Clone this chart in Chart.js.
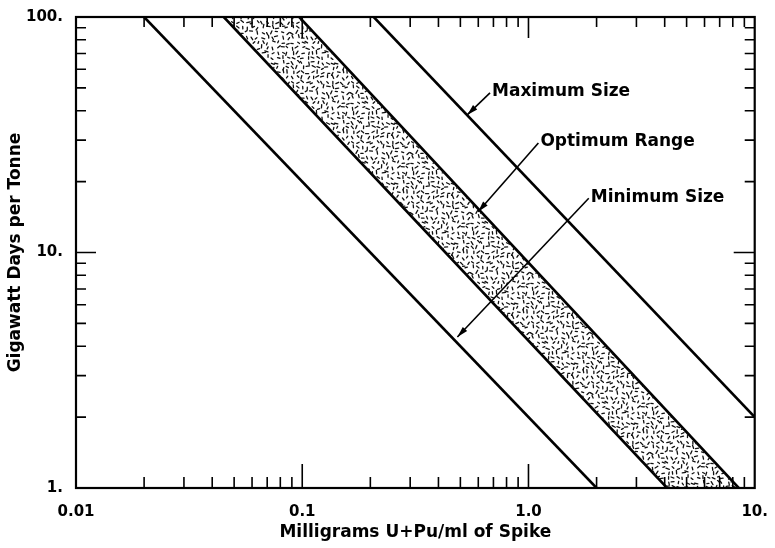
<!DOCTYPE html>
<html lang="en">
<head>
    <meta charset="UTF-8">
    <title>Spike size vs burnup</title>
    <script src="https://cdn.jsdelivr.net/npm/chart.js"></script>
    <style>
        html, body { margin: 0; padding: 0; background: #fff; }
        canvas { display: block; }
    </style>
</head>
<body>
    <canvas id="spikeChart" width="775" height="548"></canvas>

    <script>
        // axis ticks
        const xTickValues = [0.01, 0.1, 1, 10];
        const xTickLabels = ['0.01', '0.1', '1.0', '10.'];
        const yTickValues = [1, 10, 100];
        const yTickLabels = ['1.', '10.', '100.'];

        // the four diagonal lines (x = mg/ml, y = GWd/t)
        const outerLowX = [0.02, 2.0];
        const outerLowY = [100, 1];
        const bandLowX = [0.045, 4.1];
        const bandLowY = [100, 1];
        const bandHighX = [0.097, 8.5];
        const bandHighY = [100, 1];
        const outerHighX = [0.207, 10];
        const outerHighY = [100, 2.0];

        // labels with arrows: text starts at the tail, arrowhead at the tip
        const noteTexts = ['Maximum Size', 'Optimum Range', 'Minimum Size'];
        const noteTailX = [0.676, 1.106, 1.847];
        const noteTailY = [47.6, 29.2, 17.0];
        const noteTipX = [0.536, 0.599, 0.485];
        const noteTipY = [38.4, 14.9, 4.38];

        const FONT = '"DejaVu Sans", Lato, sans-serif';

        const pts = (xs, ys) => xs.map((x, i) => ({ x: x, y: ys[i] }));

        // stipple texture for the optimum band (jittered grid of short dashes)
        function stipple() {
            const c = document.createElement('canvas');
            c.width = 60; c.height = 60;
            const g = c.getContext('2d');
            g.strokeStyle = '#111';
            g.lineWidth = 1.3;
            g.lineCap = 'round';
            let s = 11;
            const next = () => { s = (s * 16807) % 2147483647; return s / 2147483647; };
            for (let gx = 0; gx < 60; gx += 5) {
                for (let gy = 0; gy < 60; gy += 5) {
                    const x = gx + 1 + next() * 3, y = gy + 1 + next() * 3;
                    const a = next() * Math.PI;
                    const l = 1.0 + next() * 0.8;
                    g.beginPath();
                    g.moveTo(x - Math.cos(a) * l, y - Math.sin(a) * l);
                    g.lineTo(x + Math.cos(a) * l, y + Math.sin(a) * l);
                    g.stroke();
                }
            }
            return g.createPattern(c, 'repeat');
        }

        // frame + inward tick marks on all four sides
        const frameTicks = {
            id: 'frameTicks',
            afterDatasetsDraw(chart) {
                const { ctx, chartArea: a, scales: { x, y } } = chart;
                const mult = [2, 3, 4, 5, 6, 7, 8, 9];
                ctx.save();
                ctx.strokeStyle = '#000';
                ctx.lineWidth = 1.6;
                [0.01, 0.1, 1].forEach(d => mult.forEach(m => {
                    const px = x.getPixelForValue(d * m);
                    ctx.beginPath();
                    ctx.moveTo(px, a.bottom); ctx.lineTo(px, a.bottom - 11);
                    ctx.moveTo(px, a.top); ctx.lineTo(px, a.top + 10);
                    ctx.stroke();
                }));
                [0.1, 1].forEach(d => {
                    const px = x.getPixelForValue(d);
                    ctx.beginPath();
                    ctx.moveTo(px, a.bottom); ctx.lineTo(px, a.bottom - 24);
                    ctx.moveTo(px, a.top); ctx.lineTo(px, a.top + 21);
                    ctx.stroke();
                });
                [1, 10].forEach(d => mult.forEach(m => {
                    const py = y.getPixelForValue(d * m);
                    ctx.beginPath();
                    ctx.moveTo(a.left, py); ctx.lineTo(a.left + 10, py);
                    ctx.moveTo(a.right, py); ctx.lineTo(a.right - 10, py);
                    ctx.stroke();
                }));
                const p10 = y.getPixelForValue(10);
                ctx.beginPath();
                ctx.moveTo(a.left, p10); ctx.lineTo(a.left + 20, p10);
                ctx.moveTo(a.right, p10); ctx.lineTo(a.right - 21, p10);
                ctx.stroke();
                ctx.lineWidth = 2.2;
                ctx.strokeRect(a.left, a.top, a.right - a.left, a.bottom - a.top);
                ctx.restore();
            }
        };

        // arrows and their labels
        const notes = {
            id: 'notes',
            afterDatasetsDraw(chart) {
                const { ctx, scales: { x, y } } = chart;
                ctx.save();
                ctx.strokeStyle = '#000';
                ctx.fillStyle = '#000';
                ctx.lineWidth = 1.6;
                ctx.font = 'bold 17px ' + FONT;
                ctx.textBaseline = 'middle';
                noteTexts.forEach((t, i) => {
                    const x0 = x.getPixelForValue(noteTailX[i]), y0 = y.getPixelForValue(noteTailY[i]);
                    const x1 = x.getPixelForValue(noteTipX[i]), y1 = y.getPixelForValue(noteTipY[i]);
                    const ang = Math.atan2(y1 - y0, x1 - x0);
                    ctx.beginPath();
                    ctx.moveTo(x0, y0); ctx.lineTo(x1, y1);
                    ctx.stroke();
                    ctx.beginPath();
                    ctx.moveTo(x1, y1);
                    ctx.lineTo(x1 - 11 * Math.cos(ang) + 3 * Math.sin(ang), y1 - 11 * Math.sin(ang) - 3 * Math.cos(ang));
                    ctx.lineTo(x1 - 11 * Math.cos(ang) - 3 * Math.sin(ang), y1 - 11 * Math.sin(ang) + 3 * Math.cos(ang));
                    ctx.closePath();
                    ctx.fill();
                    ctx.fillText(t, x0 + 2, y0 - 1);
                });
                ctx.restore();
            }
        };

        const lineStyle = { showLine: true, borderColor: '#000', borderWidth: 2.6, pointRadius: 0, fill: false };
        const tickFont = { family: FONT, size: 15, weight: 'bold' };
        const titleFont = { family: FONT, size: 17, weight: 'bold' };

        new Chart(document.getElementById('spikeChart'), {
            type: 'scatter',
            data: {
                datasets: [
                    {
                        label: 'Optimum Range',
                        data: pts(bandLowX.concat(bandHighX.slice().reverse()), bandLowY.concat(bandHighY.slice().reverse())),
                        showLine: true, borderWidth: 0, pointRadius: 0,
                        fill: 'shape', backgroundColor: stipple()
                    },
                    Object.assign({ label: 'lower', data: pts(outerLowX, outerLowY) }, lineStyle),
                    Object.assign({ label: 'band low', data: pts(bandLowX, bandLowY) }, lineStyle),
                    Object.assign({ label: 'band high', data: pts(bandHighX, bandHighY) }, lineStyle),
                    Object.assign({ label: 'upper', data: pts(outerHighX, outerHighY) }, lineStyle)
                ]
            },
            options: {
                responsive: false,
                animation: false,
                devicePixelRatio: 1,
                layout: { padding: { top: 17, right: 12, left: 0, bottom: 0 } },
                plugins: { legend: { display: false }, tooltip: { enabled: false } },
                scales: {
                    x: {
                        type: 'logarithmic',
                        min: 0.01, max: 10,
                        afterBuildTicks: s => { s.ticks = xTickValues.map(v => ({ value: v })); },
                        afterFit: s => { s.height = 60; },
                        grid: { display: false },
                        border: { display: false },
                        ticks: {
                            autoSkip: false, maxRotation: 0, padding: 7,
                            color: '#000', font: tickFont,
                            callback: v => xTickLabels[xTickValues.indexOf(v)]
                        },
                        title: {
                            display: true, text: 'Milligrams U+Pu/ml of Spike', color: '#000',
                            font: titleFont,
                            padding: { top: 0, bottom: 5 }
                        }
                    },
                    y: {
                        type: 'logarithmic',
                        min: 1, max: 100,
                        afterBuildTicks: s => { s.ticks = yTickValues.map(v => ({ value: v })); },
                        afterFit: s => { s.width = 76; },
                        grid: { display: false },
                        border: { display: false },
                        ticks: {
                            autoSkip: false, padding: 5,
                            color: '#000', font: tickFont,
                            callback: v => yTickLabels[yTickValues.indexOf(v)]
                        },
                        title: {
                            display: true, text: 'Gigawatt Days per Tonne', color: '#000',
                            font: titleFont,
                            padding: { top: 5, bottom: 0 }
                        }
                    }
                }
            },
            plugins: [frameTicks, notes]
        });
    </script>
</body>
</html>
